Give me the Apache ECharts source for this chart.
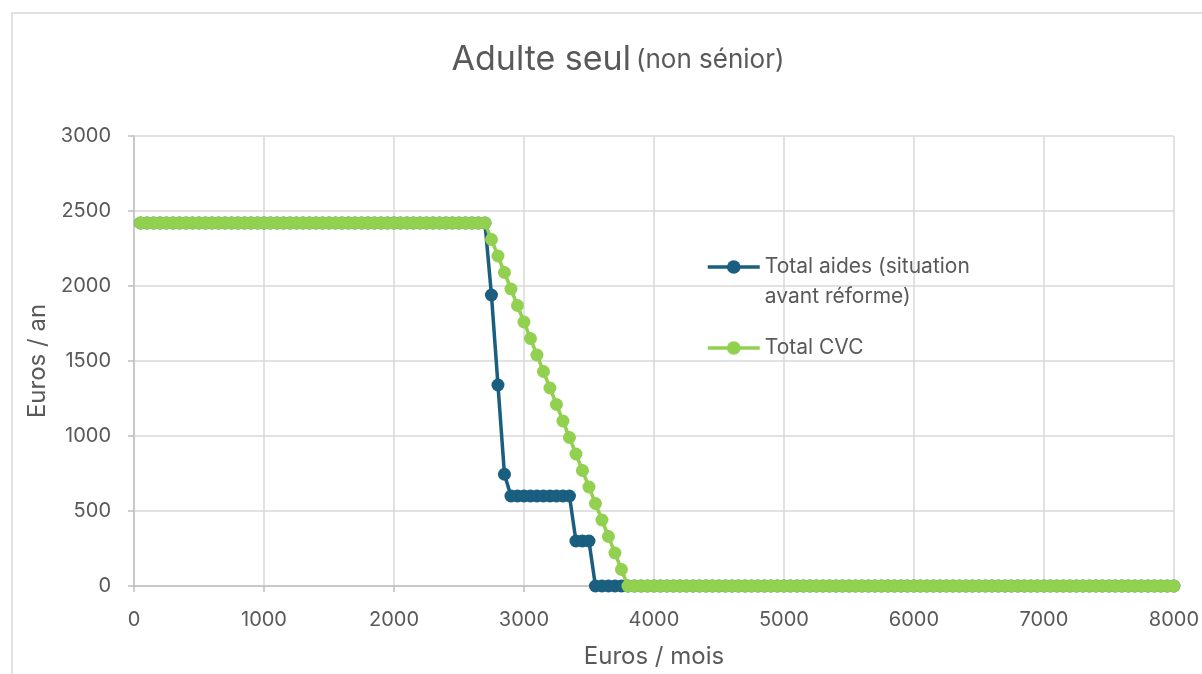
<!DOCTYPE html>
<html>
<head>
<meta charset="utf-8">
<script src="https://cdn.jsdelivr.net/npm/echarts@6/dist/echarts.min.js"></script>
<style>
html,body{margin:0;padding:0;background:#fff;}
#chart{width:1202px;height:674px;}
</style>
</head>
<body>
<div id="chart"></div>
<script>
// Revenu mensuel (euros / mois)
var revenus = [
  50,100,150,200,250,300,350,400,450,500,550,600,650,700,750,800,850,900,950,1000,
  1050,1100,1150,1200,1250,1300,1350,1400,1450,1500,1550,1600,1650,1700,1750,1800,1850,1900,1950,2000,
  2050,2100,2150,2200,2250,2300,2350,2400,2450,2500,2550,2600,2650,2700,2750,2800,2850,2900,2950,3000,
  3050,3100,3150,3200,3250,3300,3350,3400,3450,3500,3550,3600,3650,3700,3750,3800,3850,3900,3950,4000,
  4050,4100,4150,4200,4250,4300,4350,4400,4450,4500,4550,4600,4650,4700,4750,4800,4850,4900,4950,5000,
  5050,5100,5150,5200,5250,5300,5350,5400,5450,5500,5550,5600,5650,5700,5750,5800,5850,5900,5950,6000,
  6050,6100,6150,6200,6250,6300,6350,6400,6450,6500,6550,6600,6650,6700,6750,6800,6850,6900,6950,7000,
  7050,7100,7150,7200,7250,7300,7350,7400,7450,7500,7550,7600,7650,7700,7750,7800,7850,7900,7950,8000
];
// Total aides (situation avant réforme), euros / an
var totalAides = [
  2420,2420,2420,2420,2420,2420,2420,2420,2420,2420,2420,2420,2420,2420,2420,2420,2420,2420,2420,2420,
  2420,2420,2420,2420,2420,2420,2420,2420,2420,2420,2420,2420,2420,2420,2420,2420,2420,2420,2420,2420,
  2420,2420,2420,2420,2420,2420,2420,2420,2420,2420,2420,2420,2420,2420,1940,1340,745,600,600,600,
  600,600,600,600,600,600,600,300,300,300,0,0,0,0,0,0,0,0,0,0,
  0,0,0,0,0,0,0,0,0,0,0,0,0,0,0,0,0,0,0,0,
  0,0,0,0,0,0,0,0,0,0,0,0,0,0,0,0,0,0,0,0,
  0,0,0,0,0,0,0,0,0,0,0,0,0,0,0,0,0,0,0,0,
  0,0,0,0,0,0,0,0,0,0,0,0,0,0,0,0,0,0,0,0
];
// Total CVC, euros / an
var totalCVC = [
  2420,2420,2420,2420,2420,2420,2420,2420,2420,2420,2420,2420,2420,2420,2420,2420,2420,2420,2420,2420,
  2420,2420,2420,2420,2420,2420,2420,2420,2420,2420,2420,2420,2420,2420,2420,2420,2420,2420,2420,2420,
  2420,2420,2420,2420,2420,2420,2420,2420,2420,2420,2420,2420,2420,2420,2310,2200,2090,1980,1870,1760,
  1650,1540,1430,1320,1210,1100,990,880,770,660,550,440,330,220,110,0,0,0,0,0,
  0,0,0,0,0,0,0,0,0,0,0,0,0,0,0,0,0,0,0,0,
  0,0,0,0,0,0,0,0,0,0,0,0,0,0,0,0,0,0,0,0,
  0,0,0,0,0,0,0,0,0,0,0,0,0,0,0,0,0,0,0,0,
  0,0,0,0,0,0,0,0,0,0,0,0,0,0,0,0,0,0,0,0
];
var nomsSeries = ['Total aides (situation avant réforme)', 'Total CVC'];
var titre = 'Adulte seul';
var sousTitre = '(non sénior)';
var nomAxeX = 'Euros / mois';
var nomAxeY = 'Euros / an';

function paires(xs, ys) {
  var out = [];
  for (var i = 0; i < xs.length; i++) out.push([xs[i], ys[i]]);
  return out;
}

var FONT = 'Inter';
var GREY = '#595959';
var chart = echarts.init(document.getElementById('chart'), null, {renderer: 'canvas'});
chart.setOption({
  backgroundColor: '#ffffff',
  animation: false,
  textStyle: {fontFamily: FONT, color: GREY},
  graphic: [{
    type: 'rect',
    shape: {x: 12, y: 13, width: 1300, height: 700},
    style: {fill: 'none', stroke: '#d9d9d9', lineWidth: 1.5},
    silent: true, z: -10
  }],
  title: {
    text: '{a|' + titre + '} {b|' + sousTitre + '}',
    left: 613,
    top: 34,
    textAlign: 'center',
    textStyle: {
      fontWeight: 'normal',
      rich: {
        a: {fontFamily: FONT, fontSize: 34, fontWeight: 'normal', color: GREY, lineHeight: 42},
        b: {fontFamily: FONT, fontSize: 26, fontWeight: 'normal', color: GREY, lineHeight: 42}
      }
    }
  },
  legend: {
    orient: 'vertical',
    left: 706,
    top: 222,
    padding: 0,
    itemWidth: 52,
    itemHeight: 17,
    itemGap: 21,
    data: nomsSeries,
    lineStyle: {width: 3.5},
    formatter: function (name) {
      return name === nomsSeries[0] ? ' \nTotal aides (situation\navant réforme)' : name;
    },
    textStyle: {fontFamily: FONT, fontSize: 21, color: GREY, lineHeight: 30}
  },
  grid: {left: 134, right: 27, top: 136, bottom: 87, containLabel: false},
  xAxis: {
    type: 'value',
    min: 0, max: 8000, interval: 1000,
    name: nomAxeX,
    nameLocation: 'middle',
    nameGap: 59,
    nameTextStyle: {fontFamily: FONT, fontSize: 24, color: GREY},
    axisLine: {show: true, lineStyle: {color: '#bfbfbf', width: 1.5}},
    axisTick: {show: true, length: 6, lineStyle: {color: '#bfbfbf', width: 1.5}},
    axisLabel: {fontFamily: FONT, fontSize: 20, color: GREY, margin: 24, formatter: function (v) { return String(v); }},
    splitLine: {show: true, lineStyle: {color: '#d9d9d9', width: 1.5}}
  },
  yAxis: {
    type: 'value',
    min: 0, max: 3000, interval: 500,
    name: nomAxeY,
    nameLocation: 'middle',
    nameGap: 84,
    nameTextStyle: {fontFamily: FONT, fontSize: 24, color: GREY},
    axisLine: {show: true, lineStyle: {color: '#bfbfbf', width: 1.5}},
    axisTick: {show: true, length: 6, lineStyle: {color: '#bfbfbf', width: 1.5}},
    axisLabel: {fontFamily: FONT, fontSize: 20, color: GREY, margin: 23, formatter: function (v) { return String(v); }},
    splitLine: {show: true, lineStyle: {color: '#d9d9d9', width: 1.5}}
  },
  series: [{
    name: nomsSeries[0],
    type: 'line',
    data: paires(revenus, totalAides),
    symbol: 'circle',
    symbolSize: 13,
    showAllSymbol: true,
    clip: false,
    color: '#1a5e80',
    lineStyle: {width: 3.5, color: '#1a5e80'},
    itemStyle: {color: '#1a5e80'},
    z: 2
  }, {
    name: nomsSeries[1],
    type: 'line',
    data: paires(revenus, totalCVC),
    symbol: 'circle',
    symbolSize: 13,
    showAllSymbol: true,
    clip: false,
    color: '#92d050',
    lineStyle: {width: 3.5, color: '#92d050'},
    itemStyle: {color: '#92d050'},
    z: 3
  }]
});
</script>
</body>
</html>
